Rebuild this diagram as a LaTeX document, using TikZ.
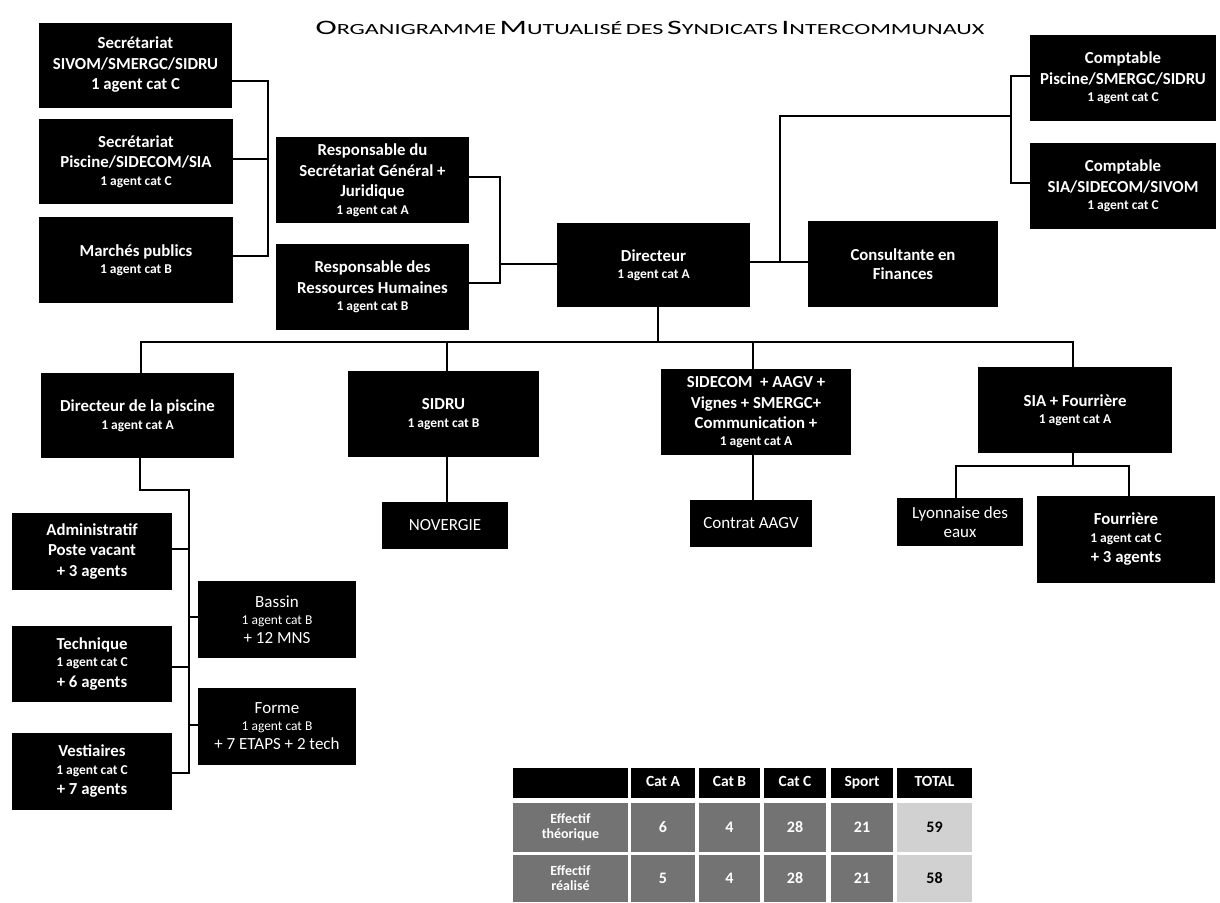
\documentclass[tikz,border=0pt]{standalone}
\usepackage{fontspec}
\usepackage{graphicx}
\setmainfont{Carlito}
\usetikzlibrary{calc}
\newcommand\sml[1]{{\fontsize{13.5}{15}\selectfont #1}}
\newcommand\tsc[2]{{\fontsize{20.5}{24}\selectfont #1}{\fontsize{15.5}{20}\selectfont #2}}
\tikzset{
  orgbox/.style={fill=black, text=white, inner sep=0pt, align=center,
    font=\bfseries\fontsize{16.8}{20.5}\selectfont},
  orgthin/.style={fill=black, text=white, inner sep=0pt, align=center,
    font=\fontsize{17}{19}\selectfont},
  link/.style={draw=black, line width=1.3pt},
  thead/.style={fill=black, text=white, inner sep=0pt, align=center,
    text height=11pt, text depth=3.5pt,
    font=\bfseries\fontsize{15.5}{17}\selectfont},
  tcell/.style={fill=black!55, text=white, inner sep=0pt, align=center,
    font=\bfseries\fontsize{14}{15}\selectfont},
  tnum/.style={tcell, font=\bfseries\fontsize{16}{18}\selectfont},
  ttot/.style={fill=black!18, text=black, inner sep=0pt, align=center,
    font=\bfseries\fontsize{16}{18}\selectfont},
}
\begin{document}
\begin{tikzpicture}[x=1pt,y=-1pt]
\useasboundingbox (0,0) rectangle (1220,902);
\fill[white] (0,0) rectangle (1220,902);

% title
\node[inner sep=0pt, anchor=base] (title) at (650,34)
  {\scalebox{1.56}[1]{\tsc{O}{RGANIGRAMME} \tsc{M}{UTUALISÉ} \tsc{}{DES} \tsc{S}{YNDICATS} \tsc{I}{NTERCOMMUNAUX}}};

% top-left group
\node[orgbox, minimum width=193, minimum height=85] (sec1) at (135.5,65)
  {Secrétariat\\SIVOM/SMERGC/SIDRU\\1 agent cat C};
\node[orgbox, minimum width=194, minimum height=85] (sec2) at (136,161.5)
  {Secrétariat\\Piscine/SIDECOM/SIA\\[-3pt]\sml{1 agent cat C}};
\node[orgbox, minimum width=194, minimum height=86] (marches) at (136,260)
  {Marchés publics\\[-3pt]\sml{1 agent cat B}};

\node[orgbox, minimum width=193, minimum height=86] (respsg) at (372.5,180)
  {Responsable du\\Secrétariat Général +\\Juridique\\[-3pt]\sml{1 agent cat A}};
\node[orgbox, minimum width=193, minimum height=86] (resprh) at (372.5,287)
  {Responsable des\\Ressources Humaines\\[-3pt]\sml{1 agent cat B}};

\node[orgbox, minimum width=193, minimum height=84] (dir) at (653.5,265)
  {Directeur\\[-4pt]\sml{1 agent cat A}};
\node[orgbox, minimum width=190, minimum height=86] (consult) at (903,264)
  {Consultante en\\[-2pt]Finances};
\node[orgbox, minimum width=186, minimum height=86] (compt1) at (1123,78)
  {Comptable\\Piscine/SMERGC/SIDRU\\[-3pt]\sml{1 agent cat C}};
\node[orgbox, minimum width=186, minimum height=86] (compt2) at (1123,186)
  {Comptable\\SIA/SIDECOM/SIVOM\\[-3pt]\sml{1 agent cat C}};

% second level
\node[orgbox, minimum width=193, minimum height=85] (dirpisc) at (137.5,415.5)
  {Directeur de la piscine\\[-3pt]\sml{1 agent cat A}};
\node[orgbox, minimum width=191, minimum height=86] (sidru) at (443.5,414)
  {SIDRU\\[-3pt]\sml{1 agent cat B}};
\node[orgbox, minimum width=190, minimum height=86] (sidecom) at (756,412)
  {SIDECOM \ + AAGV +\\Vignes + SMERGC+\\Communication +\\[-4pt]\sml{1 agent cat A}};
\node[orgbox, minimum width=194, minimum height=86] (sia) at (1075,410)
  {SIA + Fourrière\\[-3pt]\sml{1 agent cat A}};

\node[orgthin, minimum width=126, minimum height=47] (novergie) at (445,525.5) {NOVERGIE};
\node[orgthin, minimum width=122, minimum height=47] (contrat) at (751,523.5) {Contrat AAGV};
\node[orgthin, minimum width=126, minimum height=48] (lyon) at (960,522) {Lyonnaise des\\eaux};
\node[orgbox, minimum width=178, minimum height=87] (fourr) at (1126,539.5)
  {Fourrière\\[-3pt]\sml{1 agent cat C}\\+ 3 agents};

% piscine sub-units
\node[orgbox, minimum width=160, minimum height=77] (admin) at (92,551.5)
  {Administratif\\Poste vacant\\+ 3 agents};
\node[orgbox, minimum width=160, minimum height=76] (tech) at (92,664)
  {Technique\\[-3pt]\sml{1 agent cat C}\\+ 6 agents};
\node[orgbox, minimum width=160, minimum height=77] (vest) at (92,771.5)
  {Vestiaires\\[-3pt]\sml{1 agent cat C}\\+ 7 agents};
\node[orgthin, minimum width=158, minimum height=77] (bassin) at (277,619.5)
  {Bassin\\[-2pt]\sml{1 agent cat B}\\+ 12 MNS};
\node[orgthin, minimum width=158, minimum height=77] (forme) at (277,726.5)
  {Forme\\[-2pt]\sml{1 agent cat B}\\+ 7 ETAPS + 2 tech};

% connectors: left group
\coordinate (jl1) at (268,81);
\coordinate (jl2) at (268,159);
\coordinate (jl3) at (268,256);
\draw[link] (sec1.east |- jl1) -- (jl1) -- (jl3) -- (marches.east |- jl3);
\draw[link] (sec2.east |- jl2) -- (jl2);

% middle group
\coordinate (jm1) at (500,177);
\coordinate (jm2) at (500,283);
\coordinate (jm3) at (500,264);
\draw[link] (respsg.east |- jm1) -- (jm1) -- (jm2) -- (resprh.east |- jm2);
\draw[link] (jm3) -- (dir.west |- jm3);

% right group
\coordinate (jr1) at (780,262);
\coordinate (jr2) at (780,116);
\coordinate (jr3) at (1011,116);
\coordinate (jr4) at (1011,76);
\coordinate (jr5) at (1011,183);
\draw[link] (dir.east |- jr1) -- (consult.west |- jr1);
\draw[link] (jr1) -- (jr2) -- (jr3);
\draw[link] (compt1.west |- jr4) -- (jr4) -- (jr5) -- (compt2.west |- jr5);

% bottom distribution
\coordinate (jb0) at (658,342);
\coordinate (jb1) at (141,342);
\coordinate (jb2) at (447,342);
\coordinate (jb3) at (753,342);
\coordinate (jb4) at (1073,342);
\draw[link] (dir.south -| jb0) -- (jb0);
\draw[link] (dirpisc.north -| jb1) -- (jb1) -- (jb4) -- (sia.north -| jb4);
\draw[link] (jb2) -- (sidru.north -| jb2);
\draw[link] (jb3) -- (sidecom.north -| jb3);
\draw[link] (sidru.south -| jb2) -- (novergie.north -| jb2);
\draw[link] (sidecom.south -| jb3) -- (contrat.north -| jb3);

% SIA split
\coordinate (js0) at (1073,466);
\coordinate (js1) at (956,466);
\coordinate (js2) at (1129,466);
\draw[link] (sia.south -| js0) -- (js0);
\draw[link] (lyon.north -| js1) -- (js1) -- (js2) -- (fourr.north -| js2);

% piscine tree
\coordinate (jp0) at (140,490);
\coordinate (jp1) at (189,490);
\coordinate (jp2) at (189,773);
\coordinate (ja) at (189,549);
\coordinate (jbs) at (189,617);
\coordinate (jt) at (189,667);
\coordinate (jf) at (189,725);
\draw[link] (dirpisc.south -| jp0) -- (jp0) -- (jp1) -- (jp2) -- (vest.east |- jp2);
\draw[link] (admin.east |- ja) -- (ja);
\draw[link] (jbs) -- (bassin.west |- jbs);
\draw[link] (tech.east |- jt) -- (jt);
\draw[link] (jf) -- (forme.west |- jf);

% table
\node[thead, minimum width=115, minimum height=30] (t00) at (570.5,783) {};
\node[thead, minimum width=64, minimum height=30] (t01) at (663,783) {Cat A};
\node[thead, minimum width=61, minimum height=30] (t02) at (729.5,783) {Cat B};
\node[thead, minimum width=62, minimum height=30] (t03) at (795,783) {Cat C};
\node[thead, minimum width=62, minimum height=30] (t04) at (862,783) {Sport};
\node[thead, minimum width=75, minimum height=30] (t05) at (934.5,783) {TOTAL};

\node[tcell, minimum width=115, minimum height=49] (t10) at (570.5,827.5) {Effectif\\théorique};
\node[tnum, minimum width=64, minimum height=49] (t11) at (663,827.5) {6};
\node[tnum, minimum width=61, minimum height=49] (t12) at (729.5,827.5) {4};
\node[tnum, minimum width=62, minimum height=49] (t13) at (795,827.5) {28};
\node[tnum, minimum width=62, minimum height=49] (t14) at (862,827.5) {21};
\node[ttot, minimum width=75, minimum height=49] (t15) at (934.5,827.5) {59};

\node[tcell, minimum width=115, minimum height=47] (t20) at (570.5,878.5) {Effectif\\réalisé};
\node[tnum, minimum width=64, minimum height=47] (t21) at (663,878.5) {5};
\node[tnum, minimum width=61, minimum height=47] (t22) at (729.5,878.5) {4};
\node[tnum, minimum width=62, minimum height=47] (t23) at (795,878.5) {28};
\node[tnum, minimum width=62, minimum height=47] (t24) at (862,878.5) {21};
\node[ttot, minimum width=75, minimum height=47] (t25) at (934.5,878.5) {58};
\end{tikzpicture}
\end{document}
